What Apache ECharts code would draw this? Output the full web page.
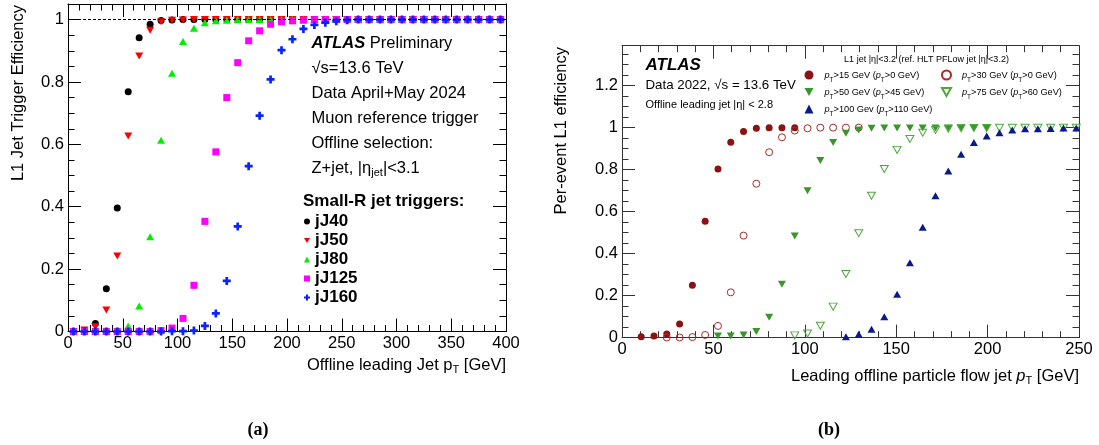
<!DOCTYPE html>
<html>
<head>
<meta charset="utf-8">
<script src="https://cdn.jsdelivr.net/npm/echarts@6/dist/echarts.min.js"></script>
<style>
    html, body { margin: 0; padding: 0; background: #fff; }
    #main { width: 1099px; height: 445px; }
</style>
</head>
<body>
<div id="main"></div>
<script>
// panel (a): L1 jet trigger efficiency vs offline leading jet pT, 10 GeV bins
var ptA = [5, 15, 25, 35, 45, 55, 65, 75, 85, 95, 105, 115, 125, 135, 145, 155, 165, 175, 185, 195,
    205, 215, 225, 235, 245, 255, 265, 275, 285, 295, 305, 315, 325, 335, 345, 355, 365, 375, 385, 395];
var jJ40 = [0, 0.003, 0.026, 0.137, 0.396, 0.769, 0.942, 0.985, 0.997, 0.999,
    1, 1, 1, 1, 1, 1, 1, 1, 1, 1, 1, 1, 1, 1, 1, 1, 1, 1, 1, 1, 1, 1, 1, 1, 1, 1, 1, 1, 1, 1];
var jJ50 = [0, 0.005, 0.015, 0.069, 0.242, 0.627, 0.883, 0.966, 0.993, 0.998, 0.999,
    1, 1, 1, 1, 1, 1, 1, 1, 1, 1, 1, 1, 1, 1, 1, 1, 1, 1, 1, 1, 1, 1, 1, 1, 1, 1, 1, 1, 1];
var jJ80 = [0, 0, 0, 0, 0.003, 0.018, 0.082, 0.304, 0.613, 0.828, 0.93, 0.972, 0.99, 0.996, 0.998,
    1, 1, 1, 1, 1, 1, 1, 1, 1, 1, 1, 1, 1, 1, 1, 1, 1, 1, 1, 1, 1, 1, 1, 1, 1];
var jJ125 = [0, 0, 0, 0, 0, 0, 0, 0, 0.003, 0.011, 0.042, 0.148, 0.353, 0.576, 0.75, 0.862, 0.932,
    0.964, 0.985, 0.993, 0.996, 0.998, 1, 1, 1, 1, 1, 1, 1, 1, 1, 1, 1, 1, 1, 1, 1, 1, 1, 1];
var jJ160 = [0, 0, 0, 0, 0, 0, 0, 0, 0, 0.001, 0.001, 0.003, 0.018, 0.058, 0.162, 0.337, 0.53, 0.692,
    0.808, 0.902, 0.937, 0.97, 0.983, 0.99, 0.995, 0.998, 1, 1, 1, 1, 1, 1, 1, 1, 1, 1, 1, 1, 1, 1];
var namesA = ['jJ40', 'jJ50', 'jJ80', 'jJ125', 'jJ160'];

// panel (b): per-event L1 efficiency vs leading offline PFlow jet pT
var ptB15 = [10.5, 17.5, 24.5, 31.5, 38.5, 45.5, 52.5, 59.5, 66.5, 73.5, 80.5, 87.5, 94.5];
var effB15 = [0.005, 0.008, 0.018, 0.065, 0.25, 0.554, 0.803, 0.93, 0.981, 0.997, 1, 1, 1];
var ptB30 = [24.5, 31.5, 38.5, 45.5, 52.5, 59.5, 66.5, 73.5, 80.5, 87.5, 94.5, 101.5, 108.5, 115.5, 122.5, 129.5];
var effB30 = [0.001, 0.001, 0.003, 0.013, 0.056, 0.216, 0.486, 0.733, 0.883, 0.954, 0.986, 0.997, 1, 1, 1, 1];
var ptB50 = [52.5, 59.5, 66.5, 73.5, 80.5, 87.5, 94.5, 101.5, 108.5, 115.5, 122.5, 129.5, 136.5, 143.5,
    150.5, 157.5, 164.5, 171.5, 178.5, 185.5, 192.5, 199.5];
var effB50 = [0.008, 0.008, 0.013, 0.029, 0.097, 0.254, 0.484, 0.7, 0.843, 0.929, 0.973, 0.989, 0.997, 0.998,
    0.998, 0.998, 0.998, 0.998, 0.998, 0.998, 0.998, 0.998];
var ptB75 = [94.5, 101.5, 108.5, 115.5, 122.5, 129.5, 136.5, 143.5, 150.5, 157.5, 164.5, 171.5, 178.5,
    185.5, 192.5, 199.5, 206.5, 213.5, 220.5, 227.5, 234.5, 241.5, 248.5];
var effB75 = [0.011, 0.02, 0.057, 0.148, 0.303, 0.497, 0.676, 0.803, 0.894, 0.946, 0.976, 0.989, 0.995,
    0.997, 0.998, 0.998, 0.999, 0.999, 0.999, 0.999, 0.999, 0.999, 0.999];
var ptB100 = [122.5, 129.5, 136.5, 143.5, 150.5, 157.5, 164.5, 171.5, 178.5, 185.5, 192.5, 199.5, 206.5,
    213.5, 220.5, 227.5, 234.5, 241.5, 248.5];
var effB100 = [0.005, 0.016, 0.04, 0.1, 0.207, 0.357, 0.526, 0.676, 0.794, 0.873, 0.929, 0.96, 0.976,
    0.989, 0.995, 0.995, 0.996, 0.998, 0.998];
var namesB = ['pT>15 GeV (pT>0 GeV)', 'pT>30 GeV (pT>0 GeV)', 'pT>50 GeV (pT>45 GeV)',
    'pT>75 GeV (pT>60 GeV)', 'pT>100 Gev (pT>110 GeV)'];

var FONT = '"Liberation Sans", Arial, Helvetica, sans-serif';
var DOWN = 'path://M0,0L10,0L5,8.7Z';
var PLUS = 'path://M3.3,0H6.7V3.3H10V6.7H6.7V10H3.3V6.7H0V3.3H3.3Z';

var myChart = echarts.init(document.getElementById('main'));

function pairs(xs, ys) {
    return xs.map(function (x, i) { return [x, ys[i]]; });
}

// axis helpers, ROOT style ticks pointing inside the frame
function xAx(grid, pos, max, label, color) {
    return {
        type: 'value', gridIndex: grid, position: pos, min: 0, max: max, interval: 50,
        axisLine: {show: true, onZero: false, lineStyle: {color: color, width: 1}},
        axisTick: {show: true, inside: true, length: 13, lineStyle: {color: color}},
        minorTick: {show: true, splitNumber: 5, length: 6.5, lineStyle: {color: color}},
        axisLabel: {show: label, color: '#000', fontSize: 16.5, fontFamily: FONT, margin: 3},
        splitLine: {show: false}, minorSplitLine: {show: false}
    };
}
function yAx(grid, pos, max, minor, label, color) {
    return {
        type: 'value', gridIndex: grid, position: pos, min: 0, max: max, interval: minor ? 0.05 : 0.2,
        axisLine: {show: !minor, onZero: false, lineStyle: {color: color, width: 1}},
        axisTick: {show: true, inside: true, length: minor ? 6.5 : 13, lineStyle: {color: color}},
        axisLabel: {show: label, showMaxLabel: false, color: '#000', fontSize: 16.5, fontFamily: FONT, margin: 4},
        splitLine: {show: false}
    };
}

function txt(x, y, text, size, extra) {
    var st = {x: 0, y: 0, text: text, fontSize: size, fontFamily: FONT, fill: '#000',
        verticalAlign: 'middle', lineHeight: size + 4,
        rich: {
            s: {fontSize: Math.round(size * 0.66), fontFamily: FONT, verticalAlign: 'bottom', fill: '#000'},
            i: {fontSize: size, fontFamily: FONT, fontStyle: 'italic', fill: '#000'},
            b: {fontSize: size, fontFamily: FONT, fontStyle: 'italic', fontWeight: 'bold', fill: '#000'}
        }};
    var el = {type: 'text', x: x, y: y, silent: true, style: st};
    if (extra) {
        for (var k in extra) {
            if (k === 'rotation') el.rotation = extra[k]; else st[k] = extra[k];
        }
    }
    return el;
}

var legendB = {
    orient: 'vertical', top: 66.5, itemWidth: 9, itemHeight: 9, itemGap: 0, padding: 0,
    selectedMode: false,
    formatter: function (n) { return n.replace(/pT/g, '{i|p}{s|T}'); },
    textStyle: {fontSize: 9.2, fontFamily: FONT, color: '#000', lineHeight: 17, padding: [0, 0, 0, 6],
        rich: {i: {fontSize: 9.2, fontStyle: 'italic', fontFamily: FONT}, s: {fontSize: 6.5, fontFamily: FONT, verticalAlign: 'bottom'}}}
};

var option = {
    animation: false,
    backgroundColor: '#fff',
    grid: [
        {left: 68, top: 4, width: 438, height: 327.5},
        {left: 622, top: 45.7, width: 457, height: 292}
    ],
    xAxis: [
        xAx(0, 'bottom', 400, true, '#000'),
        xAx(0, 'top', 400, false, '#000'),
        xAx(1, 'bottom', 250, true, '#333'),
        xAx(1, 'top', 250, false, '#333')
    ],
    yAxis: [
        yAx(0, 'left', 1.05, false, true, '#000'),
        yAx(0, 'left', 1.05, true, false, '#000'),
        yAx(0, 'right', 1.05, false, false, '#000'),
        yAx(0, 'right', 1.05, true, false, '#000'),
        yAx(1, 'left', 1.39, false, true, '#333'),
        yAx(1, 'left', 1.39, true, false, '#333'),
        yAx(1, 'right', 1.39, false, false, '#333'),
        yAx(1, 'right', 1.39, true, false, '#333')
    ],
    legend: [
        {
            data: namesA, orient: 'vertical', left: 304, top: 212, itemWidth: 6, itemHeight: 6, itemGap: 0,
            padding: 0, selectedMode: false,
            textStyle: {fontSize: 17, fontWeight: 'bold', fontFamily: FONT, color: '#000', lineHeight: 19}
        },
        Object.assign({data: [namesB[0], namesB[2], namesB[4]], left: 804.5}, legendB),
        Object.assign({data: [namesB[1], namesB[3]], left: 941}, legendB)
    ],
    series: [
        {
            name: 'jJ40', type: 'scatter', xAxisIndex: 0, yAxisIndex: 0, symbol: 'circle', symbolSize: 7,
            itemStyle: {color: '#000', opacity: 1}, data: pairs(ptA, jJ40),
            markLine: {
                silent: true, symbol: ['none', 'none'], label: {show: false},
                lineStyle: {type: [3, 2], color: '#000', width: 1}, data: [{yAxis: 1}]
            }
        },
        {name: 'jJ50', type: 'scatter', xAxisIndex: 0, yAxisIndex: 0, symbol: DOWN, symbolSize: [8, 7],
            itemStyle: {color: '#ff0000', opacity: 1}, data: pairs(ptA, jJ50)},
        {name: 'jJ80', type: 'scatter', xAxisIndex: 0, yAxisIndex: 0, symbol: 'triangle', symbolSize: [8, 7],
            itemStyle: {color: '#00ee00', opacity: 1}, data: pairs(ptA, jJ80)},
        {name: 'jJ125', type: 'scatter', xAxisIndex: 0, yAxisIndex: 0, symbol: 'rect', symbolSize: 7,
            itemStyle: {color: '#ff00ff', opacity: 1}, data: pairs(ptA, jJ125)},
        {name: 'jJ160', type: 'scatter', xAxisIndex: 0, yAxisIndex: 0, symbol: PLUS, symbolSize: 8,
            itemStyle: {color: '#0a22ff', opacity: 1}, data: pairs(ptA, jJ160)},

        {name: namesB[0], type: 'scatter', xAxisIndex: 2, yAxisIndex: 4, symbol: 'circle', symbolSize: 7,
            itemStyle: {color: '#8b1212', opacity: 1}, data: pairs(ptB15, effB15)},
        {name: namesB[1], type: 'scatter', xAxisIndex: 2, yAxisIndex: 4, symbol: 'circle', symbolSize: 7,
            itemStyle: {color: 'rgba(255,255,255,0)', borderColor: '#a52a2a', borderWidth: 1, opacity: 1}, data: pairs(ptB30, effB30)},
        {name: namesB[2], type: 'scatter', xAxisIndex: 2, yAxisIndex: 4, symbol: DOWN, symbolSize: [8, 7],
            itemStyle: {color: '#3a962a', opacity: 1}, data: pairs(ptB50, effB50)},
        {name: namesB[3], type: 'scatter', xAxisIndex: 2, yAxisIndex: 4, symbol: DOWN, symbolSize: [8, 7],
            itemStyle: {color: 'rgba(255,255,255,0)', borderColor: '#4fa83e', borderWidth: 1, opacity: 1}, data: pairs(ptB75, effB75)},
        {name: namesB[4], type: 'scatter', xAxisIndex: 2, yAxisIndex: 4, symbol: 'triangle', symbolSize: [8, 7],
            itemStyle: {color: '#0b1a8a', opacity: 1}, data: pairs(ptB100, effB100)}
    ],
    graphic: [
        // panel (a) texts
        txt(18, 5, 'L1 Jet Trigger Efficiency', 16.5, {align: 'right', rotation: Math.PI / 2}),
        txt(506, 365, 'Offline leading Jet p{s|T} [GeV]', 16.5, {align: 'right'}),
        txt(311.5, 43.5, '{b|ATLAS} Preliminary', 16.5),
        txt(311.5, 68.5, '\u221As=13.6 TeV', 16.5),
        txt(311.5, 93.5, 'Data April+May 2024', 16.5),
        txt(311.5, 118.5, 'Muon reference trigger', 16.5),
        txt(311.5, 143.5, 'Offline selection:', 16.5),
        txt(311.5, 168.5, 'Z+jet, |\u03B7{s|jet}|<3.1', 16.5),
        txt(303, 201.5, 'Small-R jet triggers:', 17, {fontWeight: 'bold'}),
        txt(258, 430, '(a)', 18, {align: 'center', fontWeight: 'bold', fontFamily: '"Liberation Serif", "Times New Roman", serif'}),

        // panel (b) texts
        txt(561, 47, 'Per-event L1 efficiency', 16.5, {align: 'right', rotation: Math.PI / 2}),
        txt(1079, 376, 'Leading offline particle flow jet {i|p}{s|T} [GeV]', 16.5, {align: 'right'}),
        txt(645.5, 65, '{b|ATLAS}', 17),
        txt(645.5, 85, 'Data 2022, \u221As = 13.6 TeV', 13.3),
        txt(645.5, 104.5, 'Offline leading jet |\u03B7| < 2.8', 11),
        txt(926.5, 59.5, 'L1 jet |\u03B7|<3.2 (ref. HLT PFLow jet |\u03B7|<3.2)', 9, {align: 'center'}),
        txt(829, 430, '(b)', 18, {align: 'center', fontWeight: 'bold', fontFamily: '"Liberation Serif", "Times New Roman", serif'})
    ]
};

myChart.setOption(option);
</script>
</body>
</html>
